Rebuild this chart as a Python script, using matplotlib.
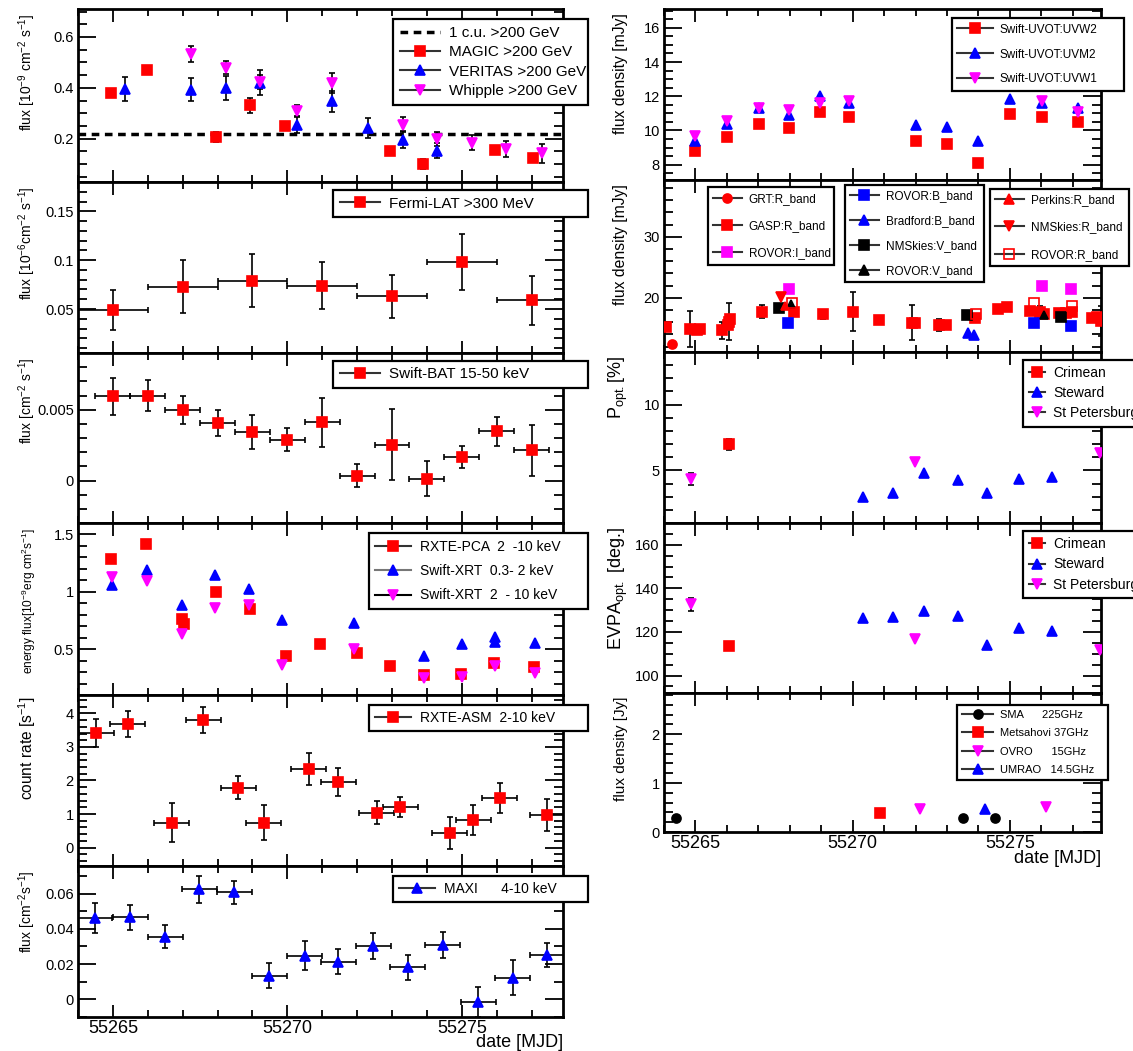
import numpy as np
import matplotlib
matplotlib.use('Agg')
import matplotlib.pyplot as plt
from matplotlib.lines import Line2D
from matplotlib.ticker import MultipleLocator, FormatStrFormatter

plt.rcParams['font.family'] = ['Liberation Sans', 'DejaVu Sans']
plt.rcParams['mathtext.default'] = 'regular'

# ---------------- data (MJD) ----------------
t_lo, t_hi = 55264.0, 55277.9

# VHE gamma rays
crab_unit = 0.22
magic_t = [55264.96, 55265.97, 55267.96, 55268.93, 55269.93, 55272.93, 55273.90, 55275.96, 55277.04]
magic_f = [0.380, 0.469, 0.207, 0.331, 0.251, 0.153, 0.100, 0.157, 0.124]
magic_e = [0.010, 0.010, 0.020, 0.030, 0.015, 0.015, 0.020, 0.010, 0.010]
veritas_t = [55265.35, 55267.25, 55268.24, 55269.22, 55270.29, 55271.29, 55272.32, 55273.32, 55274.29]
veritas_f = [0.397, 0.393, 0.400, 0.420, 0.256, 0.347, 0.243, 0.197, 0.153]
veritas_e = [0.047, 0.046, 0.048, 0.050, 0.035, 0.042, 0.040, 0.035, 0.030]
whipple_t = [55267.25, 55268.24, 55269.22, 55270.29, 55271.29, 55273.32, 55274.29, 55275.28, 55276.28, 55277.29]
whipple_f = [0.533, 0.480, 0.424, 0.309, 0.420, 0.256, 0.200, 0.184, 0.160, 0.143]
whipple_e = [0.030, 0.027, 0.027, 0.022, 0.040, 0.030, 0.027, 0.030, 0.033, 0.037]

# Fermi-LAT, 2-day bins
fermi_t = [55265, 55267, 55269, 55271, 55273, 55275, 55277]
fermi_f = [0.049, 0.073, 0.079, 0.074, 0.063, 0.098, 0.059]
fermi_e = [0.020, 0.027, 0.027, 0.024, 0.022, 0.029, 0.025]
fermi_dt = 1.0

# Swift-BAT daily
bat_t = [55265, 55266, 55267, 55268, 55269, 55270, 55271, 55272, 55273, 55274, 55275, 55276, 55277]
bat_f = [0.00594, 0.00600, 0.00500, 0.00406, 0.00343, 0.00289, 0.00410, 0.00035, 0.00254,
         0.00014, 0.00167, 0.00347, 0.00214]
bat_e = [0.0013, 0.0011, 0.0010, 0.0009, 0.0012, 0.0008, 0.0017, 0.0008, 0.0025,
         0.00125, 0.0008, 0.0010, 0.0018]
bat_dt = 0.5

# X-ray energy flux
pca_t = [55264.96, 55265.94, 55266.99, 55267.05, 55267.96, 55268.93, 55269.95, 55270.94,
         55272.01, 55272.93, 55273.92, 55274.97, 55275.93, 55277.06]
pca_f = [1.289, 1.414, 0.764, 0.723, 0.997, 0.851, 0.443, 0.545, 0.466, 0.350, 0.271, 0.286, 0.379, 0.344]
xrt_soft_t = [55264.98, 55265.97, 55266.97, 55267.93, 55268.91, 55269.84, 55271.91, 55273.92,
              55275.00, 55275.96, 55275.96, 55277.10]
xrt_soft_f = [1.055, 1.190, 0.889, 1.143, 1.026, 0.752, 0.729, 0.437, 0.545, 0.606, 0.560, 0.554]
xrt_hard_t = [55264.98, 55265.97, 55266.97, 55267.93, 55268.91, 55269.84, 55271.91, 55273.92,
              55275.00, 55275.96, 55277.10]
xrt_hard_f = [1.131, 1.093, 0.636, 0.860, 0.886, 0.364, 0.501, 0.248, 0.257, 0.350, 0.292]

# RXTE-ASM
asm_t = [55264.53, 55265.42, 55266.68, 55267.59, 55268.59, 55269.32, 55270.61, 55271.46,
         55272.56, 55273.24, 55274.65, 55275.33, 55276.09, 55277.45]
asm_r = [3.41, 3.69, 0.74, 3.80, 1.78, 0.74, 2.35, 1.96, 1.04, 1.21, 0.44, 0.81, 1.48, 0.97]
asm_e = [0.42, 0.38, 0.58, 0.39, 0.34, 0.52, 0.47, 0.41, 0.35, 0.29, 0.48, 0.45, 0.44, 0.47]
asm_dt = 0.5

# MAXI
maxi_t = [55264.48, 55265.50, 55266.50, 55267.47, 55268.48, 55269.48, 55270.50, 55271.46,
          55272.46, 55273.45, 55274.45, 55275.47, 55276.46, 55277.45]
maxi_f = [0.0461, 0.0465, 0.0355, 0.0624, 0.0606, 0.0135, 0.0248, 0.0214, 0.0301, 0.0182,
          0.0308, -0.0015, 0.0122, 0.0252]
maxi_e = [0.0085, 0.0070, 0.0065, 0.0075, 0.0066, 0.0073, 0.0083, 0.0072, 0.0075, 0.0070,
          0.0072, 0.0085, 0.0099, 0.0066]
maxi_dt = 0.5

# Swift-UVOT
uvot_t = [55265.00, 55266.01, 55267.03, 55267.98, 55268.96, 55269.90, 55272.00, 55273.00,
          55273.98, 55275.01, 55276.01, 55277.18]
uvw2 = [8.81, 9.61, 10.39, 10.14, 11.05, 10.78, 9.40, 9.22, 8.09, 10.96, 10.78, 10.47]
uvm2 = [9.36, 10.39, 11.31, 10.88, 11.99, 11.60, 10.33, 10.18, 9.40, 11.85, 11.60, 11.31]
uvw1_t = [55265.00, 55266.01, 55267.03, 55267.98, 55268.96, 55269.90, 55276.01, 55277.18]
uvw1 = [9.69, 10.53, 11.31, 11.21, 11.60, 11.70, 11.70, 11.05]

# optical flux density
gasp_t = [55264.06, 55264.83, 55265.06, 55265.15, 55265.86, 55266.06, 55266.09, 55266.03,
          55267.12, 55268.12, 55269.07, 55270.02, 55270.85, 55271.88, 55271.99, 55272.74,
          55272.97, 55273.89, 55274.63, 55274.92, 55275.64, 55275.95, 55276.10, 55276.55,
          55276.78, 55276.98, 55277.61, 55277.78, 55277.90]
gasp_f = [15.25, 14.86, 14.70, 14.86, 14.70, 16.07, 16.50, 15.60, 17.70, 17.60, 17.27, 17.70,
          16.30, 15.90, 15.80, 15.50, 15.60, 16.60, 18.10, 18.40, 17.80, 17.60, 17.40, 17.50,
          17.50, 17.70, 16.70, 16.90, 16.20]
gasp_e = [0, 2.9, 0, 0, 1.4, 3.0, 0, 0, 1.1, 0, 0.75, 3.2, 0, 2.9, 0, 1.0, 0, 0, 0, 0, 0,
          1.0, 0, 0, 0, 0, 0, 0, 2.5]
grt_t, grt_f = [55264.25], [12.35]
rovor_i_t, rovor_i_f = [55267.98, 55276.01, 55276.93], [21.5, 21.9, 21.4]
rovor_b_t, rovor_b_f = [55267.96, 55275.78, 55276.93], [15.9, 15.8, 15.4]
bradford_t, bradford_f = [55273.66, 55273.86], [14.15, 13.9]
nms_v_t, nms_v_f = [55267.67, 55273.64, 55276.64], [18.25, 17.16, 16.9]
rovor_v_t, rovor_v_f = [55268.04, 55276.10], [19.0, 17.2]
nms_r_t, nms_r_f = [55267.73], [20.05]
perkins_t, perkins_f = [55267.85], [18.6]
rovor_r_t, rovor_r_f = [55268.06, 55273.92, 55275.78, 55276.98], [19.2, 17.3, 19.1, 18.6]

# optical polarization
crim_t = [55266.06]
crim_p, crim_p_e, crim_evpa = [6.97], [0.4], [113.5]
stp_t = [55264.85, 55271.97, 55277.88]
stp_p, stp_p_e = [4.32, 5.66, 6.34], [0.45, 0.0, 0.0]
stp_evpa, stp_evpa_e = [132.8, 116.6, 111.7], [3.0, 0.0, 0.0]
stew_t = [55270.33, 55271.27, 55272.28, 55273.34, 55274.27, 55275.30, 55276.33]
stew_p = [3.00, 3.31, 4.82, 4.24, 3.31, 4.32, 4.52]
stew_evpa = [126.2, 126.9, 129.7, 127.4, 113.8, 122.0, 120.5]

# radio
sma_t, sma_f = [55264.37, 55273.51, 55274.52], [0.29, 0.29, 0.29]
mets_t, mets_f = [55270.87], [0.39]
ovro_t, ovro_f = [55272.14, 55276.16], [0.48, 0.51]
umrao_t, umrao_f = [55274.21], [0.46]

# ---------------- figure ----------------
W, H = 1133, 1051
fig = plt.figure(figsize=(W / 100, H / 100), dpi=100)

RED, BLUE, MAG = '#ff0000', '#0000ff', '#ff00ff'


def panel(x0, x1, y0, y1, ylim, major, minor):
    ax = fig.add_axes([x0 / W, 1 - y1 / H, (x1 - x0) / W, (y1 - y0) / H])
    ax.set_xlim(t_lo, t_hi)
    ax.set_ylim(*ylim)
    ax.xaxis.set_major_locator(MultipleLocator(5))
    ax.xaxis.set_minor_locator(MultipleLocator(1))
    ax.yaxis.set_major_locator(MultipleLocator(major))
    ax.yaxis.set_minor_locator(MultipleLocator(minor))
    ax.yaxis.set_major_formatter(FormatStrFormatter('%g'))
    ax.tick_params(which='both', direction='in', top=True, right=True, width=1.3,
                   labelsize=10.5, pad=3)
    ax.tick_params(axis='y', which='major', length=13)
    ax.tick_params(axis='y', which='minor', length=6.5)
    ax.tick_params(axis='x', which='major', length=9)
    ax.tick_params(axis='x', which='minor', length=5)
    ax.tick_params(axis='x', labelbottom=False)
    for s in ax.spines.values():
        s.set_linewidth(2)
    return ax


def ylab(ax, text, x=-0.082, y=0.975, fs=10):
    ax.set_ylabel(text, loc='top', fontsize=fs)
    ax.yaxis.set_label_coords(x, y)


def pts(ax, t, y, marker, color, yerr=None, xerr=None, ms=7.5, mfc=None):
    ax.errorbar(t, y, yerr=yerr, xerr=xerr, fmt=marker, ms=ms,
                mfc=color if mfc is None else mfc, mec=color, mew=1.2,
                ecolor='k', elinewidth=1.2, capsize=2, capthick=1.2, zorder=3)


def hnd(marker, color, ms=7.5, lc='#333333', mfc=None):
    return Line2D([0], [0], color=lc, lw=1.5, marker=marker, ms=ms,
                  mfc=color if mfc is None else mfc, mec=color, mew=1.2)


def box(handles, labels, x0, y0, x1, y1, fs=11, ls=0.5, hl=2.6):
    leg = fig.legend(handles=handles, labels=labels, loc='center', mode='expand',
                     bbox_to_anchor=(x0 / W, 1 - y1 / H, (x1 - x0) / W, (y1 - y0) / H),
                     bbox_transform=fig.transFigure, fontsize=fs, labelspacing=ls,
                     handlelength=hl, handletextpad=0.6, borderpad=0.45,
                     borderaxespad=0, fancybox=False, framealpha=1, edgecolor='k')
    leg.get_frame().set_linewidth(1.6)
    return leg


LX0, LX1 = 78, 563
RX0, RX1 = 664, 1101

# ---- left column ----
ax1 = panel(LX0, LX1, 9, 182, (0.03, 0.71), 0.2, 0.05)
ax1.axhline(crab_unit, color='k', lw=2.5, ls=(0, (2.2, 1.6)), zorder=2)
pts(ax1, magic_t, magic_f, 's', RED, yerr=magic_e)
pts(ax1, veritas_t, veritas_f, '^', BLUE, yerr=veritas_e)
pts(ax1, whipple_t, whipple_f, 'v', MAG, yerr=whipple_e)
ylab(ax1, r'flux [10$^{-9}$ cm$^{-2}$ s$^{-1}$]')
box([Line2D([0], [0], color='k', lw=2.5, ls=(0, (2.2, 1.6))), hnd('s', RED), hnd('^', BLUE), hnd('v', MAG)],
    ['1 c.u. >200 GeV', 'MAGIC >200 GeV', 'VERITAS >200 GeV', 'Whipple >200 GeV'],
    393, 18, 588, 106, fs=11, ls=0.35)

ax2 = panel(LX0, LX1, 182, 353, (0.005, 0.18), 0.05, 0.01)
pts(ax2, fermi_t, fermi_f, 's', RED, yerr=fermi_e, xerr=fermi_dt)
ylab(ax2, r'flux [10$^{-6}$cm$^{-2}$ s$^{-1}$]')
box([hnd('s', RED)], ['Fermi-LAT >300 MeV'], 333, 190, 588, 217, fs=11)

ax3 = panel(LX0, LX1, 353, 523, (-0.003, 0.009), 0.005, 0.001)
pts(ax3, bat_t, bat_f, 's', RED, yerr=bat_e, xerr=bat_dt)
ylab(ax3, r'flux [cm$^{-2}$ s$^{-1}$]')
box([hnd('s', RED)], ['Swift-BAT 15-50 keV'], 333, 362, 588, 387, fs=11)

ax4 = panel(LX0, LX1, 523, 695, (0.1, 1.6), 0.5, 0.1)
pts(ax4, pca_t, pca_f, 's', RED)
pts(ax4, xrt_soft_t, xrt_soft_f, '^', BLUE)
pts(ax4, xrt_hard_t, xrt_hard_f, 'v', MAG)
ylab(ax4, r'energy flux[10$^{-9}$erg cm$^{2}$s$^{-1}$]', y=0.97, fs=8.6)
box([hnd('s', RED), hnd('^', BLUE, lc='#777777'), hnd('v', MAG, lc='k')],
    ['RXTE-PCA  2  -10 keV', 'Swift-XRT  0.3- 2 keV', 'Swift-XRT  2  - 10 keV'],
    369, 533, 588, 609, fs=10, ls=0.75)

ax5 = panel(LX0, LX1, 695, 866, (-0.55, 4.55), 1, 0.2)
pts(ax5, asm_t, asm_r, 's', RED, yerr=asm_e, xerr=asm_dt)
ylab(ax5, r'count rate [s$^{-1}$]', y=0.99, fs=11.2)
box([hnd('s', RED)], ['RXTE-ASM  2-10 keV'], 369, 703, 588, 733, fs=10)

ax6 = panel(LX0, LX1, 866, 1017, (-0.01, 0.0756), 0.02, 0.01)
pts(ax6, maxi_t, maxi_f, '^', BLUE, yerr=maxi_e, xerr=maxi_dt)
ylab(ax6, r'flux [cm$^{-2}$s$^{-1}$]', y=0.97)
box([hnd('^', BLUE)], ['MAXI      4-10 keV'], 393, 875, 588, 903, fs=10)
ax6.tick_params(axis='x', labelbottom=True, labelsize=13, pad=2)
ax6.set_xlabel('date [MJD]', loc='right', fontsize=13)
ax6.xaxis.set_label_coords(1.0, -0.11)

# ---- right column ----
r1 = panel(RX0, RX1, 9, 180, (7.1, 17.1), 2, 0.5)
pts(r1, uvot_t, uvw2, 's', RED, ms=6.5)
pts(r1, uvot_t, uvm2, '^', BLUE, ms=6.5)
pts(r1, uvw1_t, uvw1, 'v', MAG, ms=6.5)
ylab(r1, 'flux density [mJy]', fs=11.3)
box([hnd('s', RED, ms=6.5), hnd('^', BLUE, ms=6.5), hnd('v', MAG, ms=6.5)],
    ['Swift-UVOT:UVW2', 'Swift-UVOT:UVM2', 'Swift-UVOT:UVW1'],
    952, 20, 1124, 89, fs=8.5, ls=1.1, hl=3.0)

r2 = panel(RX0, RX1, 180, 352, (11.1, 39.3), 10, 2)
pts(r2, gasp_t, gasp_f, 's', RED, yerr=gasp_e, ms=7)
pts(r2, grt_t, grt_f, 'o', RED, ms=6.5)
pts(r2, rovor_i_t, rovor_i_f, 's', MAG, ms=7)
pts(r2, rovor_b_t, rovor_b_f, 's', BLUE, ms=7)
pts(r2, bradford_t, bradford_f, '^', BLUE, ms=7)
pts(r2, nms_v_t, nms_v_f, 's', 'k', ms=7)
pts(r2, rovor_v_t, rovor_v_f, '^', 'k', ms=6)
pts(r2, nms_r_t, nms_r_f, 'v', RED, ms=6.5)
pts(r2, perkins_t, perkins_f, '^', RED, ms=6)
pts(r2, rovor_r_t, rovor_r_f, 's', RED, ms=7, mfc='none')
ylab(r2, 'flux density [mJy]', fs=11.3)
box([hnd('o', RED, ms=6.5), hnd('s', RED, ms=6.5), hnd('s', MAG, ms=6.5)],
    ['GRT:R_band', 'GASP:R_band', 'ROVOR:I_band'],
    708, 188, 834, 264, fs=8.5, ls=1.3, hl=2.4)
box([hnd('s', BLUE, ms=6.5), hnd('^', BLUE, ms=6.5), hnd('s', 'k', ms=6.5), hnd('^', 'k', ms=6.5)],
    ['ROVOR:B_band', 'Bradford:B_band', 'NMSkies:V_band', 'ROVOR:V_band'],
    845, 188, 984, 279, fs=8.5, ls=1.1, hl=2.4)
box([hnd('^', RED, ms=6.5), hnd('v', RED, ms=6.5), hnd('s', RED, ms=6.5, mfc='none')],
    ['Perkins:R_band', 'NMSkies:R_band', 'ROVOR:R_band'],
    990, 190, 1129, 265, fs=8.5, ls=1.3, hl=2.4)

r3 = panel(RX0, RX1, 352, 523, (1.0, 14.0), 5, 1)
pts(r3, crim_t, crim_p, 's', RED, yerr=crim_p_e, ms=7)
pts(r3, stew_t, stew_p, '^', BLUE, ms=7)
pts(r3, stp_t, stp_p, 'v', MAG, yerr=stp_p_e, ms=7)
ylab(r3, r'P$_{opt.}$[%]', x=-0.078, fs=13)
box([hnd('s', RED, ms=7), hnd('^', BLUE, ms=7), hnd('v', MAG, ms=7)],
    ['Crimean', 'Steward', 'St Petersburg'],
    1023, 361, 1140, 425, fs=10, ls=0.45, hl=1.1)

r4 = panel(RX0, RX1, 523, 693, (92, 170), 20, 5)
pts(r4, crim_t, crim_evpa, 's', RED, ms=7)
pts(r4, stew_t, stew_evpa, '^', BLUE, ms=7)
pts(r4, stp_t, stp_evpa, 'v', MAG, yerr=stp_evpa_e, ms=7)
ylab(r4, r'EVPA$_{opt.}$ [deg.]', x=-0.078, fs=13)
box([hnd('s', RED, ms=7), hnd('^', BLUE, ms=7), hnd('v', MAG, ms=7)],
    ['Crimean', 'Steward', 'St Petersburg'],
    1023, 533, 1140, 596, fs=10, ls=0.45, hl=1.1)

r5 = panel(RX0, RX1, 693, 832, (0, 2.84), 1, 0.2)
pts(r5, sma_t, sma_f, 'o', 'k', ms=6.5)
pts(r5, mets_t, mets_f, 's', RED, ms=6.5)
pts(r5, ovro_t, ovro_f, 'v', MAG, ms=6.5)
pts(r5, umrao_t, umrao_f, '^', BLUE, ms=6.5)
ylab(r5, 'flux density [Jy]', fs=11)
box([hnd('o', 'k', ms=6.5), hnd('s', RED, ms=6.5), hnd('v', MAG, ms=6.5), hnd('^', BLUE, ms=6.5)],
    ['SMA      225GHz', 'Metsahovi 37GHz', 'OVRO      15GHz', 'UMRAO   14.5GHz'],
    957, 704, 1108, 781, fs=8, ls=0.75, hl=2.8)
r5.tick_params(axis='x', labelbottom=True, labelsize=13, pad=2)
r5.set_xlabel('date [MJD]', loc='right', fontsize=13)
r5.xaxis.set_label_coords(1.0, -0.13)

fig.savefig('out.png', dpi=100)
